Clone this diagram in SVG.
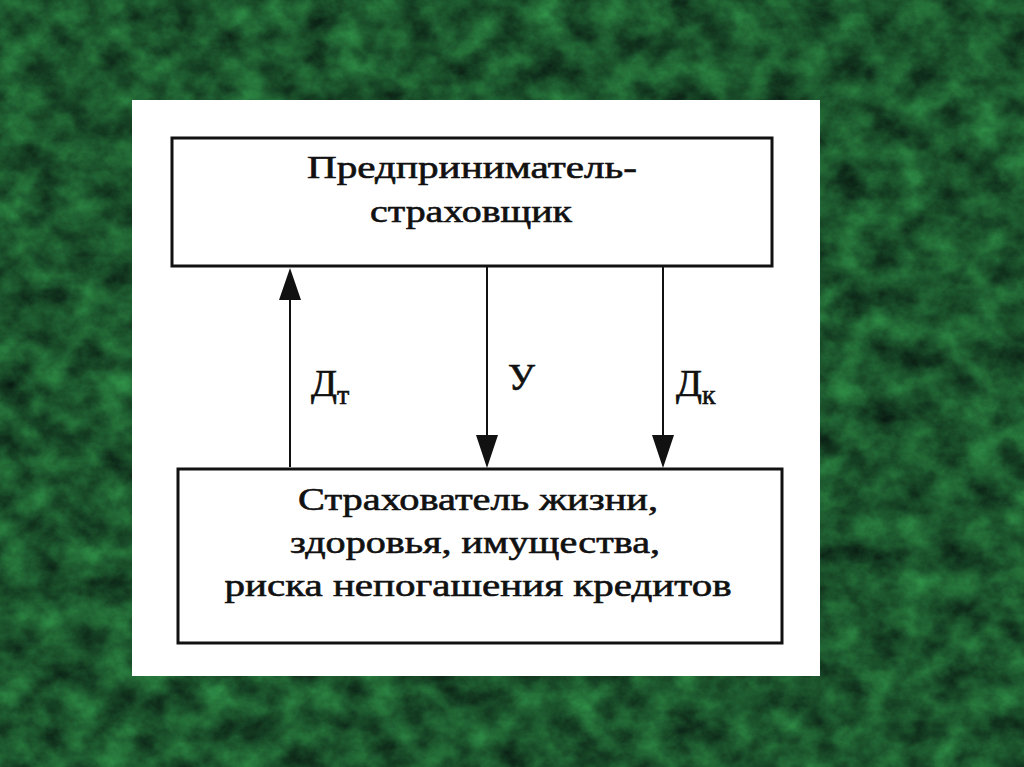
<svg xmlns="http://www.w3.org/2000/svg" width="1024" height="767" viewBox="0 0 1024 767">
  <defs>
    <filter id="marble" x="0" y="0" width="100%" height="100%" color-interpolation-filters="sRGB">
      <feTurbulence type="fractalNoise" baseFrequency="0.03 0.035" numOctaves="5" seed="7" result="n"/>
      <feColorMatrix in="n" type="matrix" values="0.18 0 0 0 0.02  0.55 0 0 0 0.06  0.25 0 0 0 0.05  0 0 0 0 1"/>
    </filter>
    <style>
      .box { fill: #fff; stroke: #111; stroke-width: 3; }
      .txt { font-family: "Liberation Serif", "DejaVu Serif", serif; font-size: 31px; fill: #111; stroke: #111; stroke-width: 0.6; }
      .lbl { font-family: "Liberation Serif", "DejaVu Serif", serif; font-size: 38px; fill: #111; stroke: #111; stroke-width: 0.7; }
      .sub { font-family: "Liberation Serif", "DejaVu Serif", serif; font-size: 28px; fill: #111; stroke: #111; stroke-width: 0.6; }
      .conn { stroke: #111; stroke-width: 2; fill: none; }
      .head { fill: #111; }
    </style>
  </defs>
  <rect x="0" y="0" width="1024" height="767" fill="#1c5a2e"/>
  <rect x="0" y="0" width="1024" height="767" filter="url(#marble)"/>
  <rect x="132" y="100" width="688" height="576" fill="#fff"/>

  <g id="node-insurer">
    <rect class="box" x="172" y="138" width="600" height="128"/>
    <text class="txt" x="472" y="178" text-anchor="middle" textLength="330" lengthAdjust="spacingAndGlyphs">Предприниматель-</text>
    <text class="txt" x="471" y="222" text-anchor="middle" textLength="202" lengthAdjust="spacingAndGlyphs">страховщик</text>
  </g>

  <g id="node-insured">
    <rect class="box" x="178" y="469" width="604" height="174"/>
    <text class="txt" x="478" y="510" text-anchor="middle" textLength="360" lengthAdjust="spacingAndGlyphs">Страхователь жизни,</text>
    <text class="txt" x="475" y="553" text-anchor="middle" textLength="370" lengthAdjust="spacingAndGlyphs">здоровья, имущества,</text>
    <text class="txt" x="478" y="596" text-anchor="middle" textLength="507" lengthAdjust="spacingAndGlyphs">риска непогашения кредитов</text>
  </g>

  <g id="connectors">
    <line class="conn" x1="290" y1="467" x2="290" y2="280"/>
    <path class="head" d="M290,268 L279,300 L301,300 Z"/>
    <line class="conn" x1="487" y1="266" x2="487" y2="450"/>
    <path class="head" d="M487,468 L476,435 L498,435 Z"/>
    <line class="conn" x1="663" y1="266" x2="663" y2="450"/>
    <path class="head" d="M663,468 L652,435 L674,435 Z"/>
    <text class="lbl" x="311" y="396">Д<tspan class="sub" dy="8">т</tspan></text>
    <text class="lbl" x="508" y="390">У</text>
    <text class="lbl" x="676" y="396">Д<tspan class="sub" dy="8">к</tspan></text>
  </g>
</svg>
